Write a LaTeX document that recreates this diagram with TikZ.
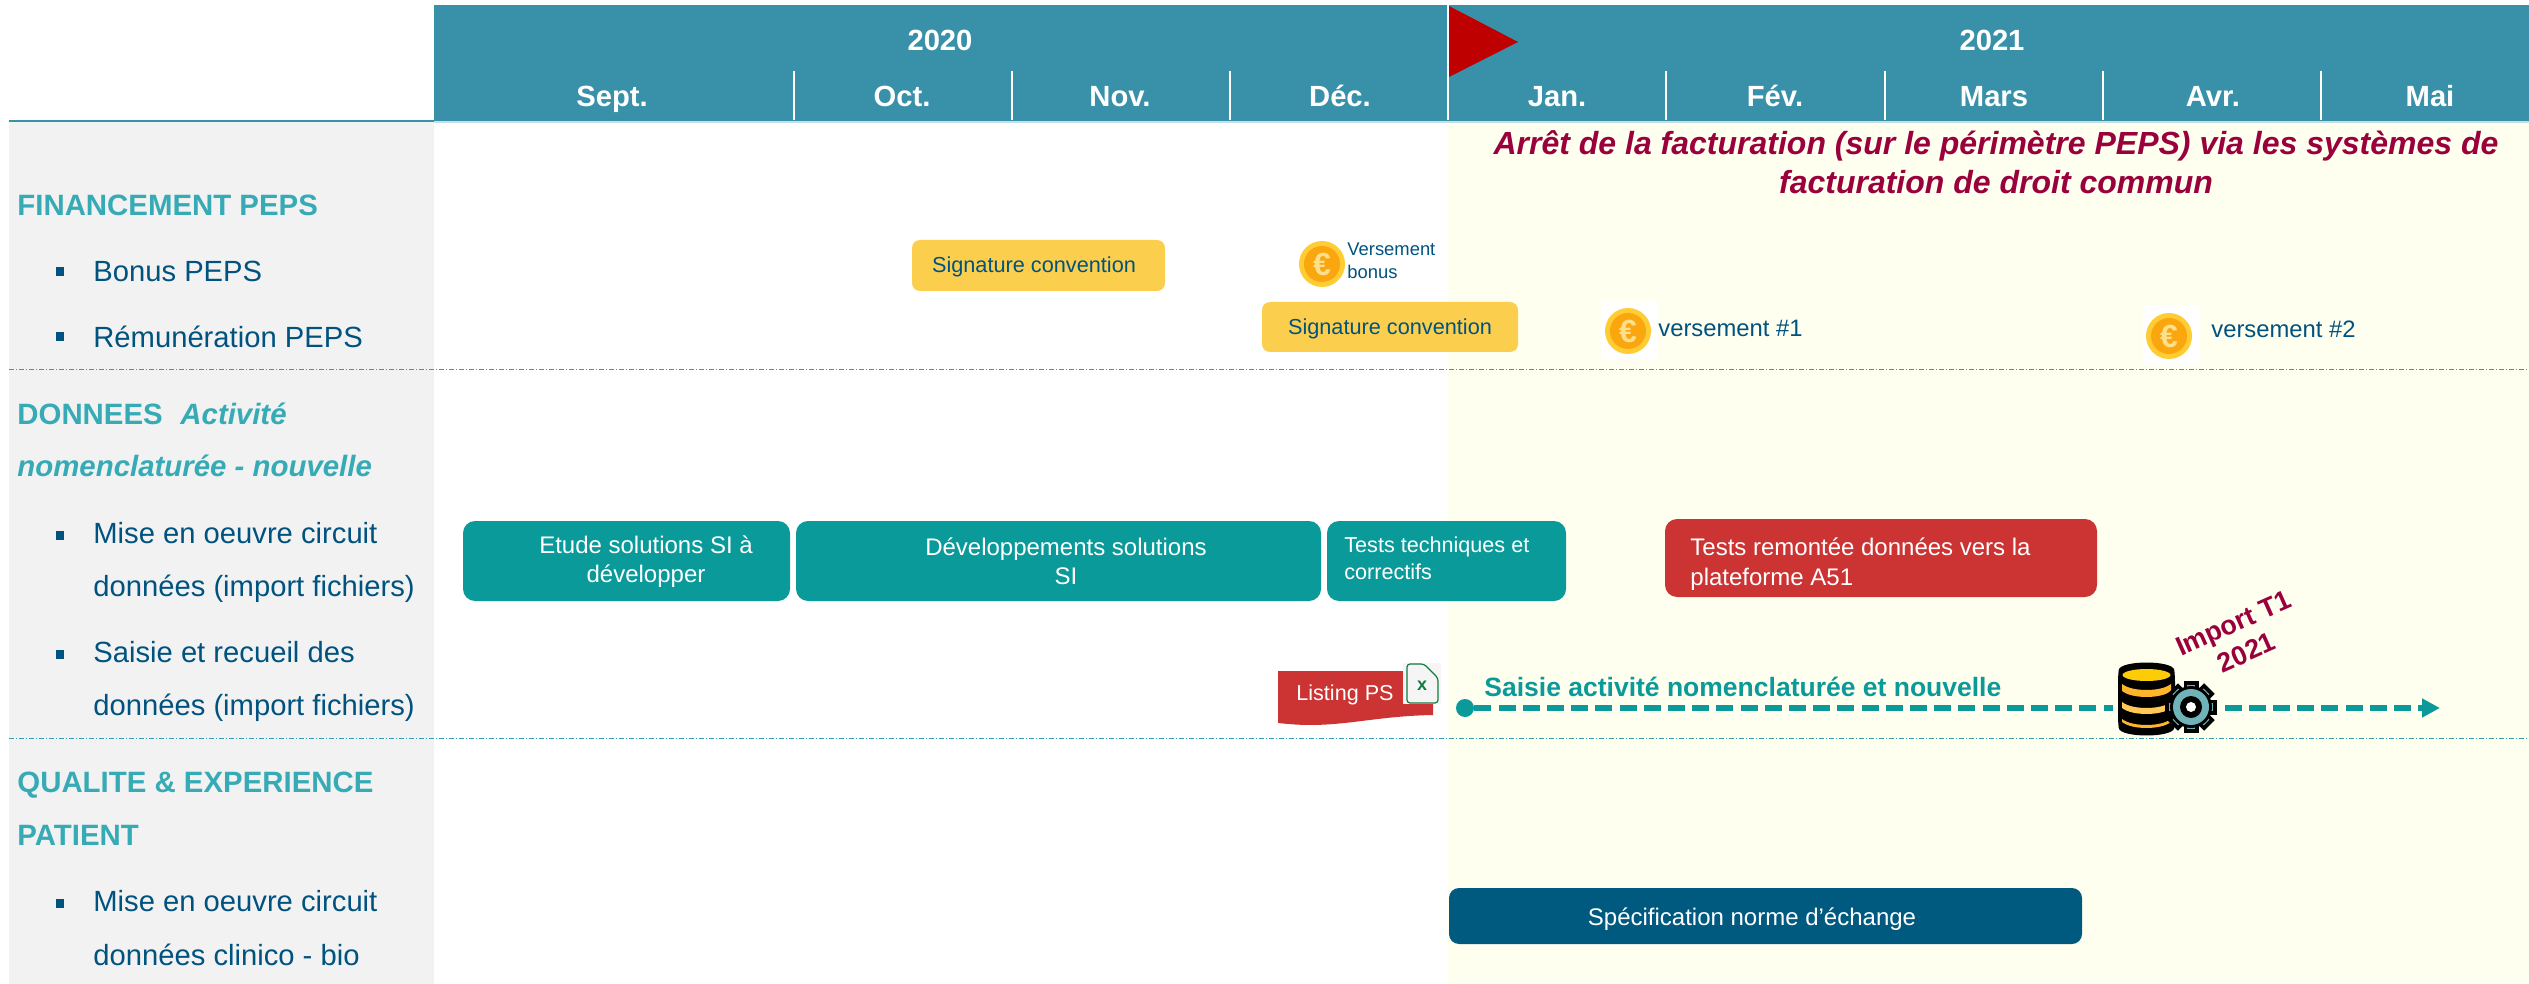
\documentclass[tikz,border=0pt]{standalone}
\usepackage{fontspec}
\setmainfont{Liberation Sans}
\usetikzlibrary{arrows.meta}
\definecolor{hdr}{HTML}{3891A9}
\definecolor{panel}{HTML}{F2F2F2}
\definecolor{pale}{HTML}{FFFFF0}
\definecolor{sect}{HTML}{36ABB5}
\definecolor{navy}{HTML}{00527F}
\definecolor{wine}{HTML}{99003C}
\definecolor{gold}{HTML}{FBCF4D}
\definecolor{teal}{HTML}{0A9A9A}
\definecolor{redb}{HTML}{CC3333}
\definecolor{deep}{HTML}{005A80}
\definecolor{sep}{HTML}{3A9BB5}
\definecolor{xlgreen}{HTML}{107C41}
\definecolor{gearc}{HTML}{6FB3B8}
\newcommand\fpx[1]{\fontsize{#1}{#1}\selectfont}
\newcommand\boxn[6]{%
  \pgfmathsetmacro\bw{(#4-#2)*0.5}\pgfmathsetmacro\bh{(#5-#3)*0.5}%
  \pgfmathsetmacro\bx{(#2+#4)/2}\pgfmathsetmacro\by{(#3+#5)/2}%
  \node[#6,minimum width=\bw pt,minimum height=\bh pt,inner sep=0pt] (#1) at (\bx,\by) {};}
\newcommand\coin[3]{%
  \node[circle,fill=coinout,minimum size=23pt,inner sep=0pt] (#1) at (#2,#3) {};
  \node[circle,fill=coinin,minimum size=18pt,inner sep=0pt,text=coinmark,font=\bfseries\fpx{16}] (#1in) at (#2,#3) {€};}
\definecolor{coinout}{HTML}{FFCC33}
\definecolor{coinin}{HTML}{F9A60F}
\definecolor{coinmark}{HTML}{FFDF8A}
\tikzset{
  lbl/.style={anchor=base west,inner sep=0pt,text=navy,font=\fpx{14.6}},
  sec/.style={anchor=base west,inner sep=0pt,text=sect,font=\bfseries\fpx{14.7}},
  hdt/.style={anchor=base,inner sep=0pt,text=white,font=\bfseries\fpx{14.6}},
  bul/.style={rectangle,fill=navy,minimum width=4pt,minimum height=4.5pt,inner sep=0pt},
  goldbox/.style={rectangle,rounded corners=4pt,fill=gold},
  tealbox/.style={rectangle,rounded corners=6pt,fill=teal},
  redbox/.style={rectangle,rounded corners=6pt,fill=redb},
  deepbox/.style={rectangle,rounded corners=5pt,fill=deep},
  bt/.style={anchor=base,inner sep=0pt,text=white,font=\fpx{12}},
  btl/.style={anchor=base west,inner sep=0pt,text=white,font=\fpx{12}},
  gt/.style={anchor=base,inner sep=0pt,text=navy,font=\fpx{10.85}},
  sepl/.style={sep,line width=0.5pt,dash pattern=on 2.5pt off 1pt on 0.5pt off 1pt},
}
\begin{document}
\begin{tikzpicture}[x=0.5pt,y=-0.5pt]
\useasboundingbox (0,0) rectangle (2529,984);
% backgrounds
\fill[panel] (9,122) rectangle (434,984);
\fill[pale] (1448,122) rectangle (2529,984);
\fill[hdr] (434,5) rectangle (2529,121);
\fill[hdr!30] (434,121) rectangle (2529,123);
\fill[hdr] (9,120) rectangle (434,122.5);
% month separators
\foreach \mx in {793.5,1011.5,1230,1448,1666,1885,2103,2321}
  \draw[white,line width=1pt] (\mx,71) -- (\mx,120);
\draw[white,line width=0.8pt] (1448,5) -- (1448,71);
\fill[fill=red!75!black] (1449,6) -- (1518,42) -- (1449,77) -- cycle;
% header text
\node[hdt] (y20) at (940,51) {2020};
\node[hdt] (y21) at (1992,51) {2021};
\node[hdt] (m1) at (612,107) {Sept.};
\node[hdt] (m2) at (902,107) {Oct.};
\node[hdt] (m3) at (1120,107) {Nov.};
\node[hdt] (m4) at (1340,107) {Déc.};
\node[hdt] (m5) at (1557,107) {Jan.};
\node[hdt] (m6) at (1775,107) {Fév.};
\node[hdt] (m7) at (1994,107) {Mars};
\node[hdt] (m8) at (2213,107) {Avr.};
\node[hdt] (m9) at (2430,107) {Mai};
% section separators
\draw[sepl] (9,370) -- (2529,370);
\draw[sepl] (9,738.5) -- (2529,738.5);
% left column
\node[sec] (s1) at (17,215.5) {FINANCEMENT PEPS};
\node[bul] (b1) at (60,272) {};
\node[lbl] (l1) at (93,282) {Bonus PEPS};
\node[bul] (b2) at (60,337) {};
\node[lbl] (l2) at (93,347.5) {Rémunération PEPS};
\node[sec] (s2) at (17,424) {DONNEES\hspace{0.6em}\itshape Activité};
\node[sec,font=\bfseries\itshape\fpx{14.7}] (s2b) at (17,476.5) {nomenclaturée - nouvelle};
\node[bul] (b3) at (60,535) {};
\node[lbl] (l3) at (93,543.5) {Mise en oeuvre circuit};
\node[lbl] (l3b) at (93,596.5) {données (import fichiers)};
\node[bul] (b4) at (60,654) {};
\node[lbl] (l4) at (93,662.5) {Saisie et recueil des};
\node[lbl] (l4b) at (93,715.5) {données (import fichiers)};
\node[sec] (s3) at (17,792.5) {QUALITE \& EXPERIENCE};
\node[sec] (s3b) at (17,845.5) {PATIENT};
\node[bul] (b5) at (60,903) {};
\node[lbl] (l5) at (93,911.5) {Mise en oeuvre circuit};
\node[lbl] (l5b) at (93,965.5) {données clinico - bio};
% headline
\node[anchor=base,inner sep=0pt,text=wine,font=\bfseries\itshape\fpx{16}] (h1) at (1996,154.5) {Arrêt de la facturation (sur le périmètre PEPS) via les systèmes de};
\node[anchor=base,inner sep=0pt,text=wine,font=\bfseries\itshape\fpx{16}] (h2) at (1996,193.5) {facturation de droit commun};
% gold boxes
\boxn{g1}{912}{240}{1165}{291}{goldbox}
\node[gt] (g1t) at (1034,273) {Signature convention};
\boxn{g2}{1262}{302}{1518}{352}{goldbox}
\node[gt] (g2t) at (1390,335) {Signature convention};
% coins
\coin{c1}{1322}{264}
\node[anchor=base west,inner sep=0pt,text=navy,font=\fpx{9.2}] (c1a) at (1347,256) {Versement};
\node[anchor=base west,inner sep=0pt,text=navy,font=\fpx{9.2}] (c1b) at (1347,279) {bonus};
\fill[white] (1601,301) rectangle (1658,360);
\coin{c2}{1628}{331}
\node[anchor=base west,inner sep=0pt,text=navy,font=\fpx{11.9}] (c2t) at (1658,336) {versement \#1};
\fill[white] (2143,306) rectangle (2200,365);
\coin{c3}{2169}{336}
\node[anchor=base west,inner sep=0pt,text=navy,font=\fpx{11.9}] (c3t) at (2211,338) {versement \#2};
% teal and red boxes
\boxn{t1}{463}{521}{790}{601}{tealbox}
\node[bt] (t1a) at (646,553) {Etude solutions SI à};
\node[bt] (t1b) at (646,582) {développer};
\boxn{t2}{796}{521}{1321}{601}{tealbox}
\node[bt] (t2a) at (1066,555) {Développements solutions};
\node[bt] (t2b) at (1066,584) {SI};
\boxn{t3}{1327}{521}{1566}{601}{tealbox}
\node[btl,font=\fpx{10.8}] (t3a) at (1344,552) {Tests techniques et};
\node[btl,font=\fpx{10.8}] (t3b) at (1344,579) {correctifs};
\boxn{r1}{1665}{519}{2097}{597}{redbox}
\node[btl] (r1a) at (1690,555) {Tests remontée données vers la};
\node[btl] (r1b) at (1690,585) {plateforme A51};
\boxn{d1}{1449}{888}{2082}{944}{deepbox}
\node[bt] (d1t) at (1752,925) {Spécification norme d’échange};
% listing
\fill[redb] (1278,671) -- (1433,671) -- (1433,715) .. controls (1380,716) and (1350,725) .. (1310,725) .. controls (1298,725) and (1288,724) .. (1278,723) -- cycle;
\node[anchor=base,inner sep=0pt,text=white,font=\fpx{10.8}] (ls) at (1345,700) {Listing PS};
\fill[white!96!black] (1403,663) rectangle (1441,704);
\draw[xlgreen,line width=0.6pt,fill=white!96!black,rounded corners=1.5pt] (1407,664) -- (1424,664) -- (1438,678) -- (1438,703) -- (1407,703) -- cycle;
\node[inner sep=0pt,text=xlgreen,font=\bfseries\fpx{9}] (lx) at (1422,686) {x};
% timeline arrow
\node[circle,fill=teal,minimum size=9pt,inner sep=0pt] (start) at (1465,708) {};
\coordinate (endp) at (2440,708);
\draw[teal,line width=3.2pt,dash pattern=on 8.5pt off 3.6pt,-{Triangle[length=9pt,width=9pt]}] (start) -- (endp);
\node[anchor=base west,inner sep=0pt,text=teal,font=\bfseries\fpx{13.25}] (sa) at (1484,696) {Saisie activité nomenclaturée et nouvelle};
% database icon
\fill[pale] (2113,660) rectangle (2219,738);
\fill[black,rounded corners=3pt] (2118,676) .. controls (2120,660) and (2173,660) .. (2175,676) -- (2175,722) .. controls (2173,738) and (2120,738) .. (2118,722) -- cycle;
\fill[yellow!65!orange] (2146.5,675) ellipse [x radius=24,y radius=6];
\foreach \yt/\yb/\cc in {684/691/FFB52A,702/708/FFC857,719/722/FFB52A}{
  \definecolor{bandc}{HTML}{\cc}
  \fill[bandc] (2122,\yt) .. controls (2132,\yt+8) and (2161,\yt+8) .. (2171,\yt) -- (2171,\yb) .. controls (2161,\yb+8) and (2132,\yb+8) .. (2122,\yb) -- cycle;
}
% gear
\foreach \a in {0,45,...,315}{
  \fill[black,rotate around={\a:(2191,707)}] (2183.5,681) rectangle (2198.5,700);
  \fill[gearc,rotate around={\a:(2191,707)}] (2187,685) rectangle (2195,700);
}
\fill[black] (2191,707) circle [radius=21];
\fill[gearc] (2191,707) circle [radius=18];
\fill[black] (2191,707) circle [radius=11];
\fill[white] (2191,707) circle [radius=5];
% import label
\node[inner sep=0pt,text=wine,font=\bfseries\fpx{13.5},align=center,rotate=24] (imp) at (2240,638) {Import T1\\[2.5pt]2021};
\end{tikzpicture}
\end{document}
